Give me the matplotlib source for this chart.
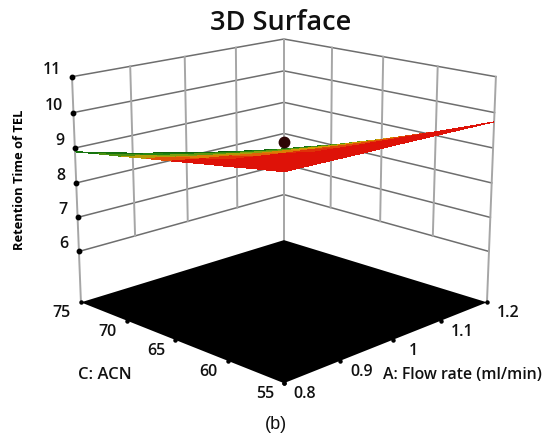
import numpy as np
import matplotlib
matplotlib.use('Agg')
import matplotlib.pyplot as plt
from matplotlib.colors import LinearSegmentedColormap
from mpl_toolkits.mplot3d import proj3d

plt.rcParams['font.family'] = ['Open Sans', 'DejaVu Sans']

flow = [0.8, 0.85, 0.9, 0.95, 1.0, 1.05, 1.1, 1.15, 1.2]
acn = [55, 57.5, 60, 62.5, 65, 67.5, 70, 72.5, 75]
# retention time, rows = acn, columns = flow
retention = [
    [9.89, 9.87, 9.85, 9.83, 9.82, 9.80, 9.78, 9.76, 9.74],
    [9.77, 9.72, 9.67, 9.63, 9.58, 9.54, 9.50, 9.46, 9.42],
    [9.64, 9.56, 9.50, 9.43, 9.36, 9.29, 9.23, 9.17, 9.11],
    [9.52, 9.42, 9.32, 9.22, 9.14, 9.05, 8.96, 8.89, 8.82],
    [9.39, 9.26, 9.15, 9.03, 8.92, 8.82, 8.71, 8.62, 8.53],
    [9.27, 9.12, 8.97, 8.84, 8.71, 8.59, 8.47, 8.36, 8.26],
    [9.14, 8.97, 8.81, 8.66, 8.51, 8.37, 8.23, 8.12, 7.99],
    [9.02, 8.82, 8.65, 8.47, 8.31, 8.15, 8.01, 7.87, 7.74],
    [8.89, 8.69, 8.48, 8.30, 8.12, 7.95, 7.79, 7.64, 7.50],
]
point = [1.2, 75, 7.73]

flow_ticks = [0.8, 0.9, 1.0, 1.1, 1.2]
flow_labels = ['0.8', '0.9', '1', '1.1', '1.2']
acn_ticks = [55, 60, 65, 70, 75]
z_ticks = [6, 7, 8, 9, 10, 11]
z_floor = 4.48

fig = plt.figure(figsize=(5.44, 4.35), dpi=100)
ax = fig.add_axes([46.4 / 544, 4.5 / 435, 462.6 / 544, 462.6 / 435], projection='3d')
ax.computed_zorder = False
ax.set_xlim(0.8, 1.2)
ax.set_ylim(55, 75)
ax.set_zlim(z_floor, 11)
ax.view_init(elev=16, azim=-135)
ax.set_proj_type('persp', focal_length=0.6)
ax.set_box_aspect((1, 1, 0.8))
ax.set_axis_off()
ax.patch.set_alpha(0)

vert = '#a6a6a6'
horiz = '#6e6e6e'

# wall grid
for z in z_ticks:
    ax.plot([0.8, 1.2, 1.2], [75, 75, 55], [z, z, z], color=horiz, lw=1.1, zorder=1)
for a in flow_ticks[1:-1]:
    ax.plot([a, a], [75, 75], [6, 11], color=vert, lw=1.4, zorder=1)
for c in acn_ticks[1:-1]:
    ax.plot([1.2, 1.2], [c, c], [6, 11], color=vert, lw=1.4, zorder=1)
ax.plot([0.8, 0.8], [75, 75], [z_floor, 11], color=vert, lw=1.4, zorder=1)
ax.plot([1.2, 1.2], [75, 75], [z_floor, 11], color=vert, lw=1.4, zorder=1)
ax.plot([1.2, 1.2], [55, 55], [z_floor, 11], color=vert, lw=1.4, zorder=1)

# floor
ax.plot_surface(np.array([[0.8, 1.2], [0.8, 1.2]]), np.array([[55, 55], [75, 75]]),
                np.full((2, 2), z_floor), color='black', shade=False, linewidth=0, zorder=2)

# ticks
ax.plot([0.8] * len(z_ticks), [75] * len(z_ticks), z_ticks, ls='', marker='o', ms=3.2, color='black', zorder=3)
ax.plot(flow_ticks, [55] * 5, [z_floor] * 5, ls='', marker='o', ms=2.2, color='black', zorder=3)
ax.plot([0.8] * 5, acn_ticks, [z_floor] * 5, ls='', marker='o', ms=2.2, color='black', zorder=3)

# surface: colour follows the distance in pixels below the upper rim
X, Y = np.meshgrid(flow, acn)
Z = np.array(retention)
M = ax.get_proj()
rim_x = np.r_[X[-1, :], X[::-1, -1]]
rim_y = np.r_[Y[-1, :], Y[::-1, -1]]
rim_z = np.r_[Z[-1, :], Z[::-1, -1]]
rx, ry, _ = proj3d.proj_transform(rim_x, rim_y, rim_z, M)
sx, sy, _ = proj3d.proj_transform(X.ravel(), Y.ravel(), Z.ravel(), M)
px_per_unit = 2500.5
drop = (np.interp(sx, rx, ry) - sy).reshape(X.shape) * px_per_unit
u = (X - 0.8) / 0.4
v = (Y - 55) / 20
drop = drop + 16 * u * (1 - v) ** 2
cmap = LinearSegmentedColormap.from_list('rsm', [
    (0.0, '#0a560a'), (0.25, '#1c8410'), (0.45, '#7fa010'), (0.6, '#d89a00'),
    (0.8, '#e05a08'), (1.0, '#de1208')])
ax.plot_surface(X, Y, Z, facecolors=cmap(np.clip(drop / 10, 0, 1)), rstride=1, cstride=1,
                linewidth=0, antialiased=False, shade=False, zorder=4)

ax.plot([point[0]], [point[1]], [point[2]], ls='', marker='o', ms=7.5, color='#2e0505', zorder=5)


def label(x, y, z, text, dx, dy, **kw):
    px, py, _ = proj3d.proj_transform(x, y, z, ax.get_proj())
    ax.annotate(text, xy=(px, py), xytext=(dx, dy), textcoords='offset pixels',
                ha='center', va='center', annotation_clip=False, **kw)


tick_font = dict(fontsize=11.5, fontweight='semibold', color='#111111')
for z in z_ticks:
    label(0.8, 75, z, str(z), -20 if z > 9 else -15, 8, **tick_font)
for a, t in zip(flow_ticks, flow_labels):
    label(a, 55, z_floor, t, 21, -10, **tick_font)
for c in acn_ticks:
    label(0.8, c, z_floor, str(c), -19, -10, **tick_font)

fig.text(281 / 544, 1 - 23 / 435, '3D Surface', fontsize=19.5, fontweight='semibold',
         ha='center', va='center', color='#111111')
fig.text(20 / 544, 1 - 180 / 435, 'Retention Time of TEL', rotation=90, fontsize=9.3,
         fontweight='bold', ha='center', va='center')
fig.text(105 / 544, 1 - 375 / 435, 'C: ACN', fontsize=12, fontweight='semibold',
         ha='center', va='center', color='#111111')
fig.text(462 / 544, 1 - 375 / 435, 'A: Flow rate (ml/min)', fontsize=11.4, fontweight='semibold',
         ha='center', va='center', color='#111111')
fig.text(276 / 544, 1 - 425 / 435, '(b)', fontsize=13, family=['Liberation Sans', 'DejaVu Sans'],
         ha='center', va='center', color='#111111')

fig.savefig('out.png', dpi=100)
